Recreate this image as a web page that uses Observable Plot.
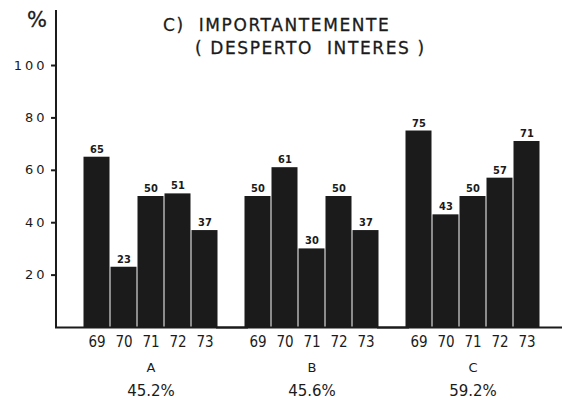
<!DOCTYPE html>
<html><head><meta charset="utf-8">
<script src="https://cdn.jsdelivr.net/npm/d3@7"></script>
<script src="https://cdn.jsdelivr.net/npm/@observablehq/plot@0.6"></script>
<style>
body{margin:0;background:#fff;}
#wrap{position:relative;width:562px;height:403px;font-family:"DejaVu Sans",sans-serif;color:#1b1b1b}
#wrap svg{position:absolute;left:0;top:0}
.t{position:absolute;white-space:nowrap;font-size:17px;letter-spacing:1.6px;line-height:1;-webkit-text-stroke:0.3px #1b1b1b}
[aria-label="y-axis tick label"] text{letter-spacing:3px}
</style></head><body>
<div id="wrap"></div>
<script>
const groups = ["A", "B", "C"];
const years = ["69", "70", "71", "72", "73"];
const valuesA = [65, 23, 50, 51, 37];
const valuesB = [50, 61, 30, 50, 37];
const valuesC = [75, 43, 50, 57, 71];
const totals = ["45.2%", "45.6%", "59.2%"];
const yTicks = [20, 40, 60, 80, 100];
const titleLines = ["C)\u00a0 IMPORTANTEMENTE", "( DESPERTO\u00a0 INTERES )"];

const series = [valuesA, valuesB, valuesC];
const rows = [];
groups.forEach((g, i) => years.forEach((y, j) => rows.push({group: g, year: y, value: series[i][j]})));
const groupRows = groups.map((g, i) => ({group: g, total: totals[i]}));

const ink = "#1b1b1b";
const W = 562, mL = 54, mR = 0, pIn = 0.16, pOut = 0.148, align = 0.5625;
const step = (W - mL - mR) / (groups.length - pIn + 2 * pOut);
const band = step * (1 - pIn);
const outerLeft = (W - mL - mR - step * (groups.length - pIn)) * align;

const chart = Plot.plot({
  width: W, height: 403,
  marginTop: 10, marginBottom: 76, marginLeft: mL, marginRight: mR,
  style: {fontFamily: "DejaVu Sans", color: ink, background: "transparent"},
  fx: {domain: groups, paddingInner: pIn, paddingOuter: pOut, align, axis: null, label: null},
  x: {domain: years, padding: 0, axis: null, label: null},
  y: {domain: [0, 121], axis: null, label: null},
  marks: [
    Plot.barY(rows, {fx: "group", x: "year", y: "value", fill: ink, insetLeft: 0.5, insetRight: 0.5}),
    Plot.text(rows, {fx: "group", x: "year", y: "value", text: d => String(d.value), dy: -8, fontSize: 11, fontWeight: "bold", fontFamily: "DejaVu Sans Condensed"}),
    Plot.axisX({tickSize: 0, tickPadding: 9, fontSize: 15, fontFamily: "DejaVu Sans Condensed", label: null}),
    Plot.text(groupRows, {fx: "group", text: "group", frameAnchor: "bottom", dy: 44, fontSize: 13}),
    Plot.text(groupRows, {fx: "group", text: "total", frameAnchor: "bottom", dy: 68, fontSize: 15, style: "letter-spacing:1px"}),
    Plot.axisY({ticks: yTicks, tickSize: 5, tickPadding: 4, fontSize: 13, strokeWidth: 2, label: null, dx: -outerLeft}),
    Plot.ruleX(groupRows.slice(0, 1), {fx: "group", x: null, y1: 0, y2: 121, strokeWidth: 2, stroke: ink, dx: -(band / 2 + outerLeft)}),
    Plot.ruleY([0], {strokeWidth: 2, stroke: ink, insetLeft: -28, insetRight: -30})
  ]
});
const wrap = document.getElementById("wrap");
wrap.appendChild(chart);
const mk = (txt, css) => { const d = document.createElement("div"); d.className = "t"; d.textContent = txt; d.style.cssText = css; wrap.appendChild(d); };
mk(titleLines[0], "left:163px;top:17px");
mk(titleLines[1], "left:195px;top:40px");
mk("%", "left:27px;top:10px;font-size:21px;letter-spacing:0");
</script>
</body></html>
